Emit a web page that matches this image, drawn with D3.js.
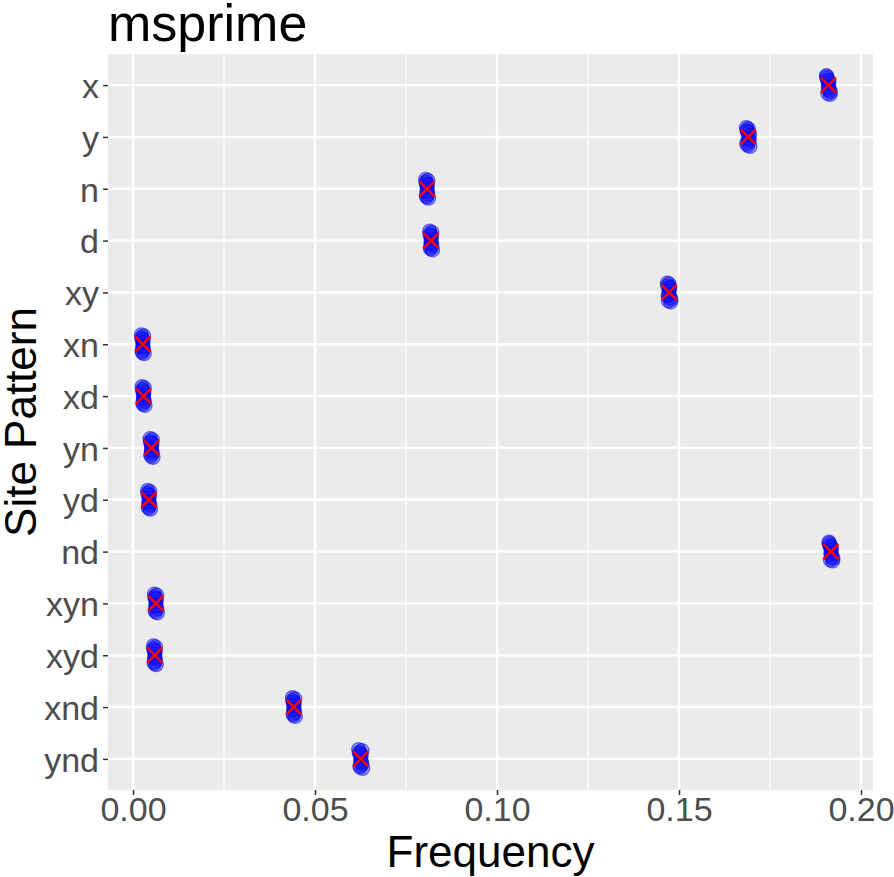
<!DOCTYPE html>
<html>
<head>
<meta charset="utf-8">
<script src="https://cdn.jsdelivr.net/npm/d3@7"></script>
<style>
  body { margin: 0; background: #fff; }
  svg { display: block; font-family: "Liberation Sans", Arial, sans-serif; }
</style>
</head>
<body>
<div class="canvas"></div>
<script>
// site patterns, top to bottom
const patterns = ["x", "y", "n", "d", "xy", "xn", "xd", "yn", "yd", "nd", "xyn", "xyd", "xnd", "ynd"];

// replicate frequencies per pattern
const repX   = [0.1905, 0.1909, 0.1912, 0.1915, 0.1910, 0.1907, 0.1913, 0.1911, 0.1916, 0.1906, 0.1912, 0.1909];
const repY   = [0.1685, 0.1689, 0.1692, 0.1695, 0.1690, 0.1687, 0.1691, 0.1694, 0.1686, 0.1690, 0.1693, 0.1688];
const repN   = [0.0804, 0.0807, 0.0809, 0.0812, 0.0808, 0.0805, 0.0810, 0.0808, 0.0806, 0.0810, 0.0808, 0.0806];
const repD   = [0.0815, 0.0818, 0.0820, 0.0823, 0.0819, 0.0816, 0.0821, 0.0819, 0.0817, 0.0821, 0.0819, 0.0817];
const repXY  = [0.1468, 0.1471, 0.1474, 0.1477, 0.1472, 0.1469, 0.1475, 0.1473, 0.1478, 0.1473, 0.1470, 0.1474];
const repXN  = [0.0023, 0.0026, 0.0028, 0.0031, 0.0027, 0.0024, 0.0029, 0.0027, 0.0025, 0.0029, 0.0027, 0.0025];
const repXD  = [0.0025, 0.0028, 0.0030, 0.0033, 0.0029, 0.0026, 0.0031, 0.0029, 0.0027, 0.0031, 0.0029, 0.0027];
const repYN  = [0.0047, 0.0050, 0.0052, 0.0055, 0.0051, 0.0048, 0.0053, 0.0051, 0.0049, 0.0053, 0.0051, 0.0049];
const repYD  = [0.0040, 0.0043, 0.0045, 0.0048, 0.0044, 0.0041, 0.0046, 0.0044, 0.0042, 0.0046, 0.0044, 0.0042];
const repND  = [0.1912, 0.1916, 0.1919, 0.1922, 0.1917, 0.1914, 0.1920, 0.1918, 0.1923, 0.1913, 0.1919, 0.1916];
const repXYN = [0.0059, 0.0062, 0.0064, 0.0067, 0.0063, 0.0060, 0.0065, 0.0063, 0.0061, 0.0065, 0.0063, 0.0061];
const repXYD = [0.0056, 0.0059, 0.0061, 0.0064, 0.0060, 0.0057, 0.0062, 0.0060, 0.0058, 0.0062, 0.0060, 0.0058];
const repXND = [0.0438, 0.0441, 0.0443, 0.0446, 0.0442, 0.0439, 0.0444, 0.0442, 0.0440, 0.0444, 0.0442, 0.0440];
const repYND = [0.0620, 0.0624, 0.0627, 0.0631, 0.0626, 0.0622, 0.0629, 0.0626, 0.0624, 0.0629, 0.0627, 0.0623];
const replicates = [repX, repY, repN, repD, repXY, repXN, repXD, repYN, repYD, repND, repXYN, repXYD, repXND, repYND];

// vertical jitter of each replicate, in category units
const jitter = [-0.18, 0.16, -0.08, 0.18, 0.03, -0.13, 0.10, -0.03, 0.13, -0.16, 0.06, -0.10];

const xTicks = [0, 0.05, 0.10, 0.15, 0.20];
const xMinor = [0.025, 0.075, 0.125, 0.175];

const svgWidth = 894, svgHeight = 877;
const margin = { top: 54, right: 21, bottom: 87, left: 108 };
const graphWidth = svgWidth - margin.left - margin.right;
const graphHeight = svgHeight - margin.top - margin.bottom;

const svg = d3.select('.canvas').append('svg')
  .attr("width", svgWidth)
  .attr("height", svgHeight);

const xScale = d3.scaleLinear()
  .domain([-0.00687, 0.2033])
  .range([0, graphWidth]);

// discrete axis with ggplot's 0.6 expansion
const yPos = d3.scalePoint()
  .domain(patterns)
  .range([0, graphHeight])
  .padding(0.6);
const step = yPos.step();

const graph = svg.append('g')
  .attr("transform", `translate(${margin.left} ${margin.top})`);

// panel background
graph.append('rect')
  .attr("width", graphWidth)
  .attr("height", graphHeight)
  .attr("fill", "#ebebeb");

// minor grid
graph.selectAll('.minor')
  .data(xMinor)
  .enter().append('line')
  .attr("x1", d => xScale(d)).attr("x2", d => xScale(d))
  .attr("y1", 0).attr("y2", graphHeight)
  .attr("stroke", "#fff").attr("stroke-width", 1.2);

// major grid
graph.selectAll('.majorx')
  .data(xTicks)
  .enter().append('line')
  .attr("x1", d => xScale(d)).attr("x2", d => xScale(d))
  .attr("y1", 0).attr("y2", graphHeight)
  .attr("stroke", "#fff").attr("stroke-width", 2.4);

graph.selectAll('.majory')
  .data(patterns)
  .enter().append('line')
  .attr("x1", 0).attr("x2", graphWidth)
  .attr("y1", d => yPos(d)).attr("y2", d => yPos(d))
  .attr("stroke", "#fff").attr("stroke-width", 2.4);

// replicate points
const points = [];
patterns.forEach((p, i) => {
  replicates[i].forEach((v, j) => points.push({ p: p, v: v, j: jitter[j] }));
});

graph.selectAll('circle')
  .data(points)
  .enter().append('circle')
  .attr("cx", d => xScale(d.v))
  .attr("cy", d => yPos(d.p) + d.j * step)
  .attr("r", 7)
  .attr("fill", "rgba(0,0,255,0.3)")
  .attr("stroke", "rgba(0,0,230,0.55)")
  .attr("stroke-width", 1.3);

// mean markers
const means = patterns.map((p, i) => ({ p: p, v: d3.mean(replicates[i]) }));
const crosses = graph.selectAll('.mean')
  .data(means)
  .enter().append('g')
  .attr("transform", d => `translate(${xScale(d.v)} ${yPos(d.p)})`);
crosses.append('line')
  .attr("x1", -7.5).attr("y1", -7.5).attr("x2", 7.5).attr("y2", 7.5)
  .attr("stroke", "#ff0000").attr("stroke-width", 2.5);
crosses.append('line')
  .attr("x1", -7.5).attr("y1", 7.5).attr("x2", 7.5).attr("y2", -7.5)
  .attr("stroke", "#ff0000").attr("stroke-width", 2.5);

// axes
const xAxis = d3.axisBottom(xScale)
  .tickValues(xTicks)
  .tickFormat(d3.format(".2f"))
  .tickSize(5).tickPadding(4);
const yAxis = d3.axisLeft(yPos)
  .tickSize(5).tickPadding(4);

const xAxisGroup = graph.append('g')
  .attr("transform", `translate(0 ${graphHeight})`)
  .call(xAxis);
const yAxisGroup = graph.append('g').call(yAxis);

[xAxisGroup, yAxisGroup].forEach(g => {
  g.select('.domain').remove();
  g.selectAll('.tick line').attr("stroke", "#333").attr("stroke-width", 1.5);
  g.selectAll('.tick text')
    .attr("fill", "#4d4d4d")
    .style("font-size", "34px")
    .style("font-family", "'Liberation Sans', Arial, sans-serif");
});
yAxisGroup.selectAll('.tick text').attr("dy", "0.36em");
xAxisGroup.selectAll('.tick text').attr("dy", "0.71em").attr("y", 7);

// titles
svg.append('text')
  .attr("x", margin.left)
  .attr("y", 41)
  .style("font-size", "52px")
  .attr("fill", "#000")
  .text("msprime");

svg.append('text')
  .attr("x", margin.left + graphWidth / 2)
  .attr("y", 867)
  .attr("text-anchor", "middle")
  .style("font-size", "44px")
  .attr("fill", "#000")
  .text("Frequency");

svg.append('text')
  .attr("transform", `translate(36 ${margin.top + graphHeight / 2}) rotate(-90)`)
  .attr("text-anchor", "middle")
  .style("font-size", "44px")
  .attr("fill", "#000")
  .text("Site Pattern");
</script>
</body>
</html>
